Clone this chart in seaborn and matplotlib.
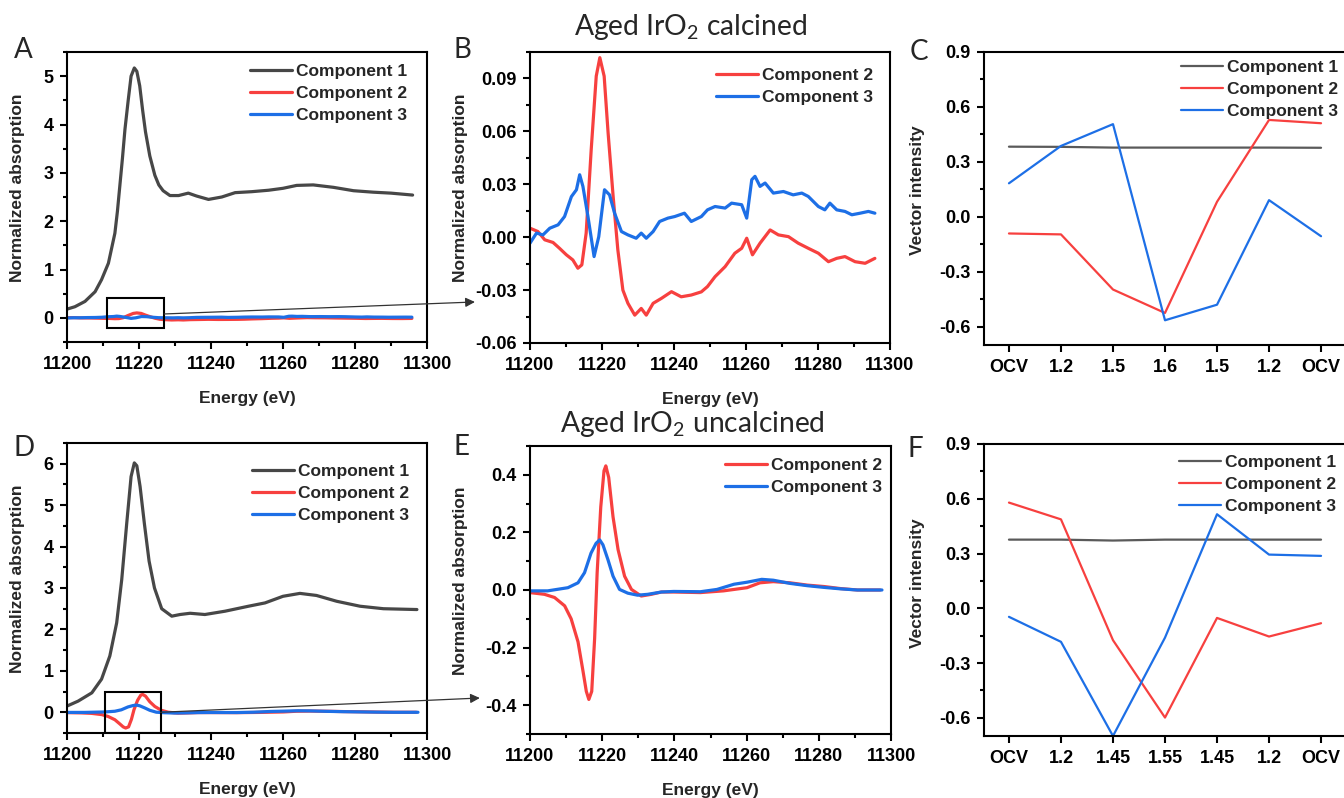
import numpy as np
import pandas as pd
import matplotlib
matplotlib.use("Agg")
import matplotlib.pyplot as plt
import seaborn as sns
from matplotlib.patches import Rectangle, ConnectionPatch
from matplotlib.ticker import MultipleLocator, FormatStrFormatter

# ---------------- data ----------------
# Panel A: component 1 (aged IrO2 calcined)
calc_c1_energy = [11200, 11202.2, 11205, 11207.8, 11209.6, 11211.5, 11213.3, 11214, 11214.7, 11215.4,
                  11216.1, 11217, 11217.8, 11218.7, 11219.4, 11220.2, 11221, 11221.8, 11223, 11224.4,
                  11225.5, 11226.7, 11228.6, 11231, 11233.7, 11236, 11239.3, 11243, 11246.7, 11251.3,
                  11256, 11260, 11263.8, 11268.4, 11274, 11279.6, 11285, 11290, 11296]
calc_c1 = [0.18, 0.23, 0.34, 0.54, 0.79, 1.13, 1.75, 2.20, 2.75, 3.30,
           3.90, 4.50, 5.00, 5.17, 5.10, 4.80, 4.30, 3.85, 3.35, 2.95,
           2.75, 2.63, 2.53, 2.53, 2.58, 2.52, 2.45, 2.50, 2.59, 2.61,
           2.64, 2.68, 2.74, 2.75, 2.70, 2.63, 2.60, 2.58, 2.54]

# Panel B: components 2 and 3 (calcined)
calc_c2_energy = [11200, 11202.2, 11204.1, 11206.4, 11208.2, 11210.1, 11211.9, 11213.3, 11214.4, 11215.6,
                  11217, 11218.4, 11219.4, 11220.6, 11221.7, 11223.1, 11224.4, 11225.8, 11227.2, 11229.1,
                  11230.9, 11232.3, 11234.2, 11236.5, 11239.3, 11242, 11244.8, 11247.6, 11249.3, 11251.4,
                  11254.2, 11256.9, 11258.8, 11260.2, 11261.8, 11263.9, 11266.7, 11269, 11271.8, 11274.5,
                  11277.3, 11280.1, 11282.9, 11285.2, 11287.5, 11290.3, 11293.1, 11295.8]
calc_c2 = [0.0051, 0.0032, -0.0015, -0.003, -0.0063, -0.010, -0.0129, -0.0176, -0.0157, 0.0023,
           0.0496, 0.0913, 0.1018, 0.0913, 0.059, 0.023, -0.0072, -0.030, -0.0375, -0.0442,
           -0.0404, -0.0442, -0.0375, -0.0347, -0.0309, -0.0338, -0.0328, -0.031, -0.028, -0.0224,
           -0.0167, -0.0091, -0.0063, -0.0006, -0.010, -0.0034, 0.0041, 0.0013, 0.0003, -0.0034,
           -0.0063, -0.0091, -0.0139, -0.012, -0.011, -0.0139, -0.0148, -0.012]
calc_c3_energy = [11200, 11201.8, 11203.6, 11205.5, 11207.8, 11209.6, 11211.5, 11212.9, 11213.8, 11214.7,
                  11216.1, 11217.8, 11219.1, 11220.7, 11222.1, 11223.5, 11225.4, 11227.2, 11229.5, 11230.9,
                  11232.3, 11234.2, 11236, 11238.3, 11240.2, 11242.9, 11244.8, 11247.6, 11249.3, 11251.4,
                  11254.2, 11256, 11258.8, 11260.2, 11261.6, 11262.5, 11263.9, 11265.3, 11267.6, 11270.4,
                  11273.1, 11275.5, 11277.3, 11280.1, 11281.9, 11283.3, 11285.2, 11287.5, 11289.4, 11291.7,
                  11294, 11295.8]
calc_c3 = [-0.0034, 0.0023, 0.0013, 0.0051, 0.007, 0.0117, 0.023, 0.0269, 0.0354, 0.0288,
           0.0117, -0.011, 0.0003, 0.0269, 0.024, 0.0136, 0.0032, 0.0013, -0.0006, 0.0023,
           -0.0006, 0.0032, 0.0089, 0.0108, 0.0117, 0.0136, 0.0089, 0.0117, 0.0155, 0.0174,
           0.0165, 0.0193, 0.0184, 0.0108, 0.0326, 0.0345, 0.0288, 0.0307, 0.025, 0.0259,
           0.024, 0.025, 0.0231, 0.0174, 0.0155, 0.0193, 0.0155, 0.0146, 0.0127, 0.0136,
           0.0146, 0.0136]

# Panel C: vector intensities (calcined)
calc_potentials = ["OCV", "1.2", "1.5", "1.6", "1.5", "1.2", "OCV"]
calc_vec1 = [0.383, 0.382, 0.378, 0.378, 0.378, 0.378, 0.377]
calc_vec2 = [-0.091, -0.096, -0.397, -0.525, 0.082, 0.529, 0.511]
calc_vec3 = [0.183, 0.387, 0.506, -0.565, -0.480, 0.091, -0.106]

# Panel D: component 1 (uncalcined)
unc_c1_energy = [11200, 11203.1, 11206.9, 11209.6, 11211.9, 11213.8, 11215.2, 11216.6, 11217.8, 11218.7,
                 11219.4, 11220.3, 11221.5, 11222.8, 11224.3, 11226.3, 11229.1, 11231.4, 11234.2, 11238.3,
                 11243.9, 11250.4, 11255, 11260, 11264.7, 11269.3, 11274.9, 11281.4, 11287.9, 11297.2]
unc_c1 = [0.15, 0.27, 0.47, 0.80, 1.36, 2.16, 3.20, 4.57, 5.69, 6.02,
          5.95, 5.45, 4.55, 3.65, 3.00, 2.50, 2.32, 2.36, 2.39, 2.36,
          2.44, 2.56, 2.64, 2.80, 2.87, 2.82, 2.68, 2.56, 2.50, 2.48]

# Panel E: components 2 and 3 (uncalcined)
unc_c2_energy = [11200, 11204, 11206.8, 11209.6, 11211.4, 11213.3, 11214.7, 11215.6, 11216.3, 11217.1,
                 11217.9, 11218.6, 11219.6, 11220.5, 11221, 11221.8, 11223, 11224.4, 11226.2, 11228.1,
                 11230.8, 11233.6, 11236.4, 11239.8, 11247.2, 11253.6, 11260.1, 11263.7, 11267.4, 11272,
                 11276.8, 11281.5, 11286, 11290.7, 11297]
unc_c2 = [-0.009, -0.015, -0.026, -0.055, -0.10, -0.18, -0.283, -0.352, -0.38, -0.352,
          -0.169, 0.06, 0.288, 0.414, 0.431, 0.391, 0.254, 0.14, 0.048, 0.002,
          -0.021, -0.015, -0.007, -0.007, -0.009, -0.003, 0.008, 0.025, 0.029, 0.025,
          0.017, 0.012, 0.005, 0.0, 0.0]
unc_c3_energy = [11200, 11204.9, 11210.5, 11213.3, 11215.1, 11216.9, 11218.3, 11219.3, 11220.2, 11221.6,
                 11223, 11224.8, 11227.1, 11229.8, 11232.6, 11236.4, 11239.8, 11247.2, 11251.8, 11256.5,
                 11260.1, 11264.2, 11267.4, 11272, 11276.8, 11281.5, 11286, 11290.7, 11297.5]
unc_c3 = [-0.003, -0.003, 0.008, 0.025, 0.06, 0.128, 0.162, 0.174, 0.157, 0.105,
          0.048, 0.002, -0.011, -0.018, -0.015, -0.007, -0.005, -0.006, 0.002, 0.02,
          0.027, 0.037, 0.034, 0.023, 0.015, 0.009, 0.004, 0.0, 0.0]

# Panel F: vector intensities (uncalcined)
unc_potentials = ["OCV", "1.2", "1.45", "1.55", "1.45", "1.2", "OCV"]
unc_vec1 = [0.376, 0.376, 0.371, 0.376, 0.376, 0.376, 0.376]
unc_vec2 = [0.579, 0.487, -0.175, -0.599, -0.053, -0.155, -0.082]
unc_vec3 = [-0.047, -0.184, -0.700, -0.161, 0.515, 0.294, 0.287]

labels = ["Component 1", "Component 2", "Component 3"]

# ---------------- style ----------------
sns.set_theme(style="ticks")
plt.rcParams["font.family"] = ["Liberation Sans", "DejaVu Sans"]
plt.rcParams["font.weight"] = "bold"
plt.rcParams["axes.labelweight"] = "bold"
plt.rcParams["axes.unicode_minus"] = False
plt.rcParams["mathtext.fontset"] = "custom"
plt.rcParams["mathtext.rm"] = "Lato"
plt.rcParams["mathtext.it"] = "Lato:italic"
plt.rcParams["mathtext.bf"] = "Lato:bold"

GRAY, RED, BLUE = "#474747", "#f7403f", "#1d6fe6"
GRAY_THIN = "#5a5a5a"
FS = 12.5
FS_TICK = 13
W, H = 1344, 798
fig = plt.figure(figsize=(W / 100, H / 100), dpi=100)


def add_ax(l, t, r, b):
    return fig.add_axes([l / W, 1 - b / H, (r - l) / W, (b - t) / H])


def style_ax(ax):
    for s in ax.spines.values():
        s.set_linewidth(1.5)
        s.set_color("black")
    ax.tick_params(which="major", direction="out", length=5, width=1.5, colors="black",
                   labelsize=FS_TICK, top=False, right=False)
    ax.tick_params(axis="x", which="major", pad=5)
    ax.tick_params(axis="y", which="major", pad=4.5)
    ax.tick_params(which="minor", direction="out", length=3, width=1.5, colors="black",
                   top=False, right=False)
    for lab in ax.get_xticklabels() + ax.get_yticklabels():
        lab.set_fontweight("bold")


def legend(ax, right_px, top_px):
    ax.legend(loc="upper right", bbox_to_anchor=(right_px / W, 1 - top_px / H),
              bbox_transform=fig.transFigure, frameon=False, borderpad=0, borderaxespad=0,
              handlelength=2.4, handletextpad=0.25, labelspacing=0.38,
              prop={"size": FS, "weight": "bold"})


def spectra_axes(ax, ylim, major, minor, fmt, ylab_x, ylab_y):
    ax.set_xlim(11200, 11300)
    ax.set_ylim(*ylim)
    ax.xaxis.set_major_locator(MultipleLocator(20))
    ax.xaxis.set_minor_locator(MultipleLocator(10))
    ax.yaxis.set_major_locator(MultipleLocator(major))
    ax.yaxis.set_minor_locator(MultipleLocator(minor))
    ax.yaxis.set_major_formatter(FormatStrFormatter(fmt))
    ax.set_xlabel("Energy (eV)", fontsize=FS, fontweight="bold", labelpad=13)
    ax.set_ylabel("Normalized absorption", fontsize=FS, fontweight="bold")
    ax.yaxis.set_label_coords(ylab_x, ylab_y)
    style_ax(ax)


def vector_axes(ax, ticklabels, ylab_x, ylab_y):
    ax.set_xlim(-0.48, len(ticklabels) - 0.52)
    ax.set_ylim(-0.70, 0.90)
    ax.set_xticks(np.arange(len(ticklabels)))
    ax.set_xticklabels(ticklabels)
    ax.yaxis.set_major_locator(MultipleLocator(0.3))
    ax.yaxis.set_minor_locator(MultipleLocator(0.15))
    ax.yaxis.set_major_formatter(FormatStrFormatter("%.1f"))
    ax.set_xlabel("")
    ax.set_ylabel("Vector intensity", fontsize=FS, fontweight="bold")
    ax.yaxis.set_label_coords(ylab_x, ylab_y)
    style_ax(ax)


LW_S = 2.3
LW_V = 1.6

# ---------- Panel A ----------
axA = add_ax(67, 52, 427, 342)
sns.lineplot(x=calc_c1_energy, y=calc_c1, ax=axA, color=GRAY, lw=LW_S, label=labels[0])
sns.lineplot(x=calc_c2_energy, y=calc_c2, ax=axA, color=RED, lw=LW_S, label=labels[1])
sns.lineplot(x=calc_c3_energy, y=calc_c3, ax=axA, color=BLUE, lw=LW_S, label=labels[2])
spectra_axes(axA, (-0.5, 5.5), 1, 0.5, "%d", -0.117, 0.533)
legend(axA, 407, 64)
axA.add_patch(Rectangle((11211, -0.22), 16, 0.63, fill=False, ec="black", lw=1.5, zorder=5))

# ---------- Panel B ----------
axB = add_ax(530, 52, 890, 343)
sns.lineplot(x=calc_c2_energy, y=calc_c2, ax=axB, color=RED, lw=LW_S, label=labels[1])
sns.lineplot(x=calc_c3_energy, y=calc_c3, ax=axB, color=BLUE, lw=LW_S, label=labels[2])
spectra_axes(axB, (-0.06, 0.105), 0.03, 0.015, "%.2f", -0.172, 0.534)
legend(axB, 873, 68)

# ---------- Panel C ----------
axC = add_ax(984, 52, 1346, 345)
xc = np.arange(len(calc_potentials))
sns.lineplot(x=xc, y=calc_vec1, ax=axC, color=GRAY_THIN, lw=LW_V, label=labels[0])
sns.lineplot(x=xc, y=calc_vec2, ax=axC, color=RED, lw=LW_V, label=labels[1])
sns.lineplot(x=xc, y=calc_vec3, ax=axC, color=BLUE, lw=LW_V, label=labels[2])
vector_axes(axC, calc_potentials, -0.163, 0.527)
legend(axC, 1338, 60)

# ---------- Panel D ----------
axD = add_ax(67, 443, 427, 733)
sns.lineplot(x=unc_c1_energy, y=unc_c1, ax=axD, color=GRAY, lw=LW_S, label=labels[0])
sns.lineplot(x=unc_c2_energy, y=unc_c2, ax=axD, color=RED, lw=LW_S, label=labels[1])
sns.lineplot(x=unc_c3_energy, y=unc_c3, ax=axD, color=BLUE, lw=LW_S, label=labels[2])
spectra_axes(axD, (-0.5, 6.5), 1, 0.5, "%d", -0.117, 0.531)
legend(axD, 409, 464)
axD.add_patch(Rectangle((11210.5, -0.5), 15.5, 0.98, fill=False, ec="black", lw=1.5, zorder=5))

# ---------- Panel E ----------
axE = add_ax(530, 446, 891, 734)
sns.lineplot(x=unc_c2_energy, y=unc_c2, ax=axE, color=RED, lw=LW_S, label=labels[1])
sns.lineplot(x=unc_c3_energy, y=unc_c3, ax=axE, color=BLUE, lw=LW_S, label=labels[2])
spectra_axes(axE, (-0.5, 0.5), 0.2, 0.1, "%.1f", -0.172, 0.531)
legend(axE, 882, 458)

# ---------- Panel F ----------
axF = add_ax(984, 444, 1346, 736)
xf = np.arange(len(unc_potentials))
sns.lineplot(x=xf, y=unc_vec1, ax=axF, color=GRAY_THIN, lw=LW_V, label=labels[0])
sns.lineplot(x=xf, y=unc_vec2, ax=axF, color=RED, lw=LW_V, label=labels[1])
sns.lineplot(x=xf, y=unc_vec3, ax=axF, color=BLUE, lw=LW_V, label=labels[2])
vector_axes(axF, unc_potentials, -0.163, 0.522)
legend(axF, 1336, 455)

# ---------- zoom connectors ----------
con1 = ConnectionPatch(xyA=(11227, 0.08), coordsA=axA.transData,
                       xyB=(-0.153, 0.141), coordsB=axB.transAxes,
                       arrowstyle="-|>", mutation_scale=14, lw=0.9, color="#333333")
fig.add_artist(con1)
con2 = ConnectionPatch(xyA=(11226, 0.0), coordsA=axD.transData,
                       xyB=(-0.139, 0.125), coordsB=axE.transAxes,
                       arrowstyle="-|>", mutation_scale=14, lw=0.9, color="#333333")
fig.add_artist(con2)

# ---------- titles and panel letters ----------
fig.text(691 / W, 1 - 35 / H, r"Aged IrO$_\mathregular{2}$ calcined", family="Lato",
         weight="normal", fontsize=20.3, ha="center", va="baseline")
fig.text(692 / W, 1 - 432 / H, r"Aged IrO$_\mathregular{2}$ uncalcined", family="Lato",
         weight="normal", fontsize=20.3, ha="center", va="baseline")
for letter, x, y in [("A", 14, 58), ("B", 454, 58), ("C", 910, 60),
                     ("D", 14, 456), ("E", 454, 455), ("F", 907, 457)]:
    fig.text(x / W, 1 - y / H, letter, family="Lato", weight="normal", fontsize=20,
             ha="left", va="baseline")

fig.savefig("out.png", dpi=100, facecolor="white")
